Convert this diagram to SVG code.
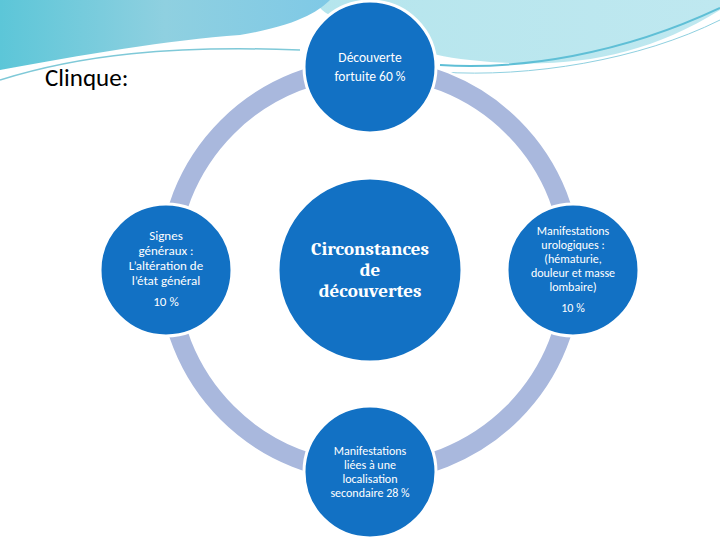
<svg xmlns="http://www.w3.org/2000/svg" width="720" height="540" viewBox="0 0 720 540">
<defs>
<linearGradient id="w1" x1="0" y1="0" x2="1" y2="0"><stop offset="0" stop-color="#5cc6d8"/><stop offset="0.5" stop-color="#8fd0e0"/><stop offset="1" stop-color="#7fc9e6"/></linearGradient>
<linearGradient id="w2" x1="0" y1="0" x2="1" y2="0"><stop offset="0" stop-color="#aee3ea"/><stop offset="1" stop-color="#bfe8f0"/></linearGradient>
</defs>
<style>
.c{fill:#1271C4;stroke:#fff;stroke-width:3}
.t{font-family:Calibri,Carlito,"Liberation Sans",sans-serif;fill:#fff;text-anchor:middle}
</style>
<rect width="720" height="540" fill="#fff"/>
<g id="bg">
<path d="M0,0H720V10C640,60 560,70 470,60 C420,55 390,40 340,20 C310,8 320,0 320,0 Z" fill="url(#w2)"/>
<path d="M0,0H330C320,10 300,25 240,35 C170,40 80,55 0,70Z" fill="url(#w1)"/>
<path d="M0,80C80,55 170,45 300,50" fill="none" stroke="#7fc9d8" stroke-width="1.5"/>
<path d="M440,65C520,70 620,55 720,8" fill="none" stroke="#5fbfd6" stroke-width="2"/>
<path d="M440,72C530,78 640,60 720,20" fill="none" stroke="#8fd0e0" stroke-width="1"/>
</g>
<text x="45" y="86" font-family="Calibri,Carlito,'Liberation Sans',sans-serif" font-size="25" fill="#000">Clinque:</text>
<g id="connectors">
<circle cx="370" cy="270" r="202" fill="none" stroke="#fff" stroke-width="24"/>
<circle cx="370" cy="270" r="202" fill="none" stroke="#A9B8DD" stroke-width="19"/>
</g>
<g id="center"><circle class="c" cx="370" cy="270" r="92"/>
<text class="t" style="font-family:Cambria,Caladea,'Liberation Serif',serif" font-size="19" font-weight="bold"><tspan x="370" y="255">Circonstances</tspan><tspan x="370" y="276">de</tspan><tspan x="370" y="297">découvertes</tspan></text></g>
<g id="top"><circle class="c" cx="370" cy="67" r="66"/>
<text class="t" font-size="13.5"><tspan x="370" y="62">Découverte</tspan><tspan x="370" y="81">fortuite 60 %</tspan></text></g>
<g id="left"><circle class="c" cx="166" cy="270" r="66"/>
<text class="t" font-size="13"><tspan x="166" y="240">Signes</tspan><tspan x="166" y="255">généraux :</tspan><tspan x="166" y="270">L’altération de</tspan><tspan x="166" y="285">l’état général</tspan><tspan x="166" y="306">10 %</tspan></text></g>
<g id="right"><circle class="c" cx="573" cy="270" r="66"/>
<text class="t" font-size="12"><tspan x="573" y="235">Manifestations</tspan><tspan x="573" y="249">urologiques :</tspan><tspan x="573" y="263">(hématurie,</tspan><tspan x="573" y="277">douleur et masse</tspan><tspan x="573" y="291">lombaire)</tspan><tspan x="573" y="312">10 %</tspan></text></g>
<g id="bottom"><circle class="c" cx="370" cy="472" r="66"/>
<text class="t" font-size="12"><tspan x="370" y="455">Manifestations</tspan><tspan x="370" y="469">liées à une</tspan><tspan x="370" y="483">localisation</tspan><tspan x="370" y="497">secondaire 28 %</tspan></text></g>
</svg>
